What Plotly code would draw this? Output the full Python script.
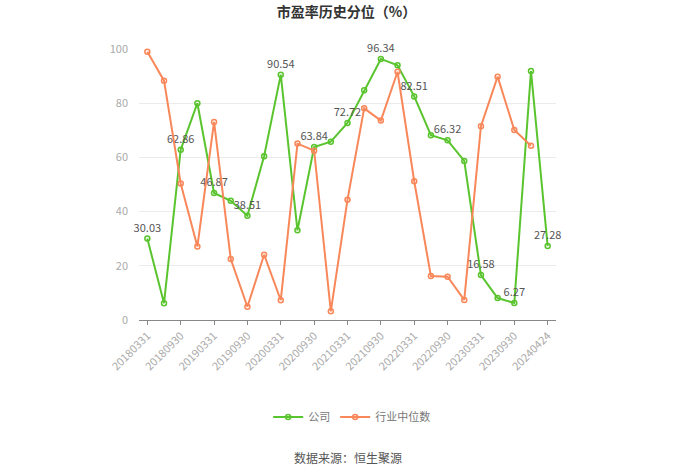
import plotly.graph_objects as go

dates = ["20180331", "20180630", "20180930", "20181231",
         "20190331", "20190630", "20190930", "20191231",
         "20200331", "20200630", "20200930", "20201231",
         "20210331", "20210630", "20210930", "20211231",
         "20220331", "20220630", "20220930", "20221231",
         "20230331", "20230630", "20230930", "20231231",
         "20240424"]
company = [30.03, 6.2, 62.86, 80.0, 46.87, 44.0, 38.51, 60.4, 90.54, 33.1,
           63.84, 65.8, 72.72, 84.8, 96.34, 94.0, 82.51, 68.2, 66.32, 58.7,
           16.58, 8.1, 6.27, 91.9, 27.28]
industry = [99.0, 88.3, 50.4, 27.1, 73.1, 22.5, 4.9, 24.1, 7.3, 65.1,
            62.5, 3.2, 44.4, 78.1, 73.6, 91.6, 51.2, 16.2, 16.0, 7.4,
            71.5, 89.8, 70.1, 64.3]
label_idx = list(range(0, 25, 2))
tick_labels = [dates[i] for i in label_idx]
y_ticks = [0, 20, 40, 60, 80, 100]

green = "#5ac42e"
orange = "#f8875a"

company_text = [f"{v:.2f}" if i in label_idx else "" for i, v in enumerate(company)]

fig = go.Figure()
fig.add_trace(go.Scatter(
    x=dates, y=company, name="公司", mode="lines+markers+text",
    text=company_text, textposition="top center",
    textfont=dict(size=11, color="#555", family="Noto Sans CJK SC"),
    line=dict(color=green, width=2),
    marker=dict(symbol="circle-open", size=5, color=green, line=dict(width=1.5, color=green)),
    cliponaxis=False,
))
fig.add_trace(go.Scatter(
    x=dates[:len(industry)], y=industry, name="行业中位数", mode="lines+markers",
    line=dict(color=orange, width=2),
    marker=dict(symbol="circle-open", size=5, color=orange, line=dict(width=1.5, color=orange)),
    cliponaxis=False,
))

fig.update_layout(
    width=700, height=474,
    margin=dict(l=139, r=144, t=49, b=154),
    paper_bgcolor="white", plot_bgcolor="white",
    font=dict(family="Noto Sans CJK SC", color="#999", size=11),
    title=dict(text="<b>市盈率历史分位（%）</b>", x=0.495, xanchor="center", y=0.975, yanchor="middle",
               font=dict(size=14, color="#333", family="Noto Sans CJK SC")),
    showlegend=True,
    legend=dict(orientation="h", x=0.51, xanchor="center", y=-0.358, yanchor="middle",
                font=dict(size=11, color="#777"), itemwidth=30, tracegroupgap=0),
    xaxis=dict(type="category", categoryorder="array", categoryarray=dates,
               range=[-0.5, len(dates) - 0.5],
               tickvals=tick_labels, ticktext=tick_labels, tickangle=-45,
               showline=True, linecolor="#888", linewidth=1,
               ticks="outside", ticklen=4, tickcolor="#888",
               showgrid=False, tickfont=dict(size=11, color="#aaa")),
    yaxis=dict(range=[0, 100], tickvals=y_ticks, showgrid=True, gridcolor="#ebebeb",
               zeroline=False, showline=False, ticks="", ticklabelstandoff=10,
               tickfont=dict(size=11, color="#aaa")),
    annotations=[dict(text="数据来源：恒生聚源", xref="paper", yref="paper", x=0.5, y=-0.509,
                      showarrow=False, font=dict(size=12, color="#555"), xanchor="center", yanchor="middle")],
)

fig.write_html("out.html")
